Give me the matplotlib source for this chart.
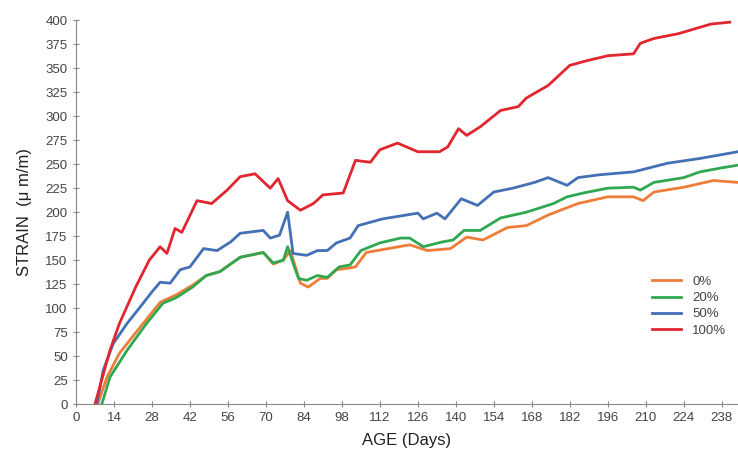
import matplotlib.pyplot as plt

plt.rcParams['font.family'] = ['Liberation Sans', 'DejaVu Sans']

# values (day, strain in micro m/m)
days_0 = [8, 11.4, 16, 23.6, 31, 37, 43, 48, 53, 60.5, 69, 72.7, 76.4, 79, 82.7, 85.6, 90, 92.6, 96,
          101, 103, 107, 115, 123, 129.5, 138, 144, 150, 159, 166, 174, 185, 196, 205.5, 209, 213,
          224, 235, 244]
strain_0 = [0, 28, 53, 80, 106, 114, 124, 134, 138, 153, 158, 146, 150, 160, 126, 122, 131, 131, 140,
            142, 143, 158, 162, 166, 160, 162, 174, 171, 184, 186, 197, 209, 216, 216, 212, 221,
            226, 233, 231]

days_20 = [9.5, 12.5, 18.8, 26, 32, 37, 43, 48, 53, 60.5, 69, 72.7, 76.4, 78, 80, 82, 85, 89, 92.6,
           97, 101, 105, 112, 119.6, 123, 128, 135, 139, 143, 149, 156.5, 166, 176, 181, 187, 196,
           205.5, 208, 213, 224, 230, 237.6, 244]
strain_20 = [0, 28, 56, 84, 105, 111, 122, 134, 138, 153, 158, 147, 150, 164, 147, 131, 129, 134, 132,
             143, 145, 160, 168, 173, 173, 164, 169, 171, 181, 181, 194, 200, 209, 216, 220, 225,
             226, 223, 231, 236, 242, 246, 249]

days_50 = [7.7, 10, 13.7, 18.8, 23.6, 28, 31, 34.7, 38.4, 42, 47, 52, 57, 60.5, 69, 71.6, 75, 78, 80,
           85, 89, 92.6, 96, 101, 104, 113, 126, 128, 133, 136, 142, 148, 154, 161, 169, 174, 181,
           185, 193, 205.5, 218, 230, 244]
strain_50 = [0, 35, 63, 84, 101, 117, 127, 126, 140, 143, 162, 160, 169, 178, 181, 173, 176, 200, 157,
             155, 160, 160, 168, 173, 186, 193, 199, 193, 199, 193, 214, 207, 221, 225, 231, 236, 228,
             236, 239, 242, 251, 256, 263]

days_100 = [7, 12.5, 16, 22, 27, 31, 33.5, 36.5, 39, 44.6, 50, 55.7, 60.5, 66, 71.6, 74.5, 78, 82.7,
            87.5, 91, 98.5, 103, 108.5, 112, 118.5, 126, 134, 137, 141, 144, 149, 156.5, 163, 166,
            174, 182, 188.5, 196, 205.5, 208, 213, 222, 234, 241]
strain_100 = [0, 56, 84, 122, 150, 164, 157, 183, 179, 212, 209, 223, 237, 240, 225, 235, 212, 202,
              209, 218, 220, 254, 252, 265, 272, 263, 263, 268, 287, 280, 289, 306, 310, 319,
              332, 353, 358, 363, 365, 376, 381, 386, 396, 398]

labels = ['0%', '20%', '50%', '100%']
colors = ['#ef7d3a', '#2fa84f', '#4470b6', '#e1262f']

fig = plt.figure(figsize=(7.38, 4.5), dpi=100)
ax = fig.add_axes([0.103, 0.102, 0.897, 0.853])

series = [(days_0, strain_0), (days_20, strain_20), (days_50, strain_50), (days_100, strain_100)]
for (d, s), lab, c in zip(series, labels, colors):
    ax.plot(d, s, color=c, linewidth=2, label=lab)

ax.set_xlim(0, 244)
ax.set_ylim(0, 400)
ax.set_xticks(range(0, 239, 14))
ax.set_yticks(range(0, 401, 25))

for side in ['top', 'right']:
    ax.spines[side].set_visible(False)
for side in ['left', 'bottom']:
    ax.spines[side].set_color('#888888')
ax.tick_params(direction='inout', length=5, color='#888888', labelsize=9.5, labelcolor='#444444')

ax.set_xlabel('AGE (Days)', fontsize=12, color='#222222', labelpad=6)
ax.set_ylabel('STRAIN  (\u03bc m/m)', fontsize=12, color='#222222', labelpad=10)

ax.legend(loc='center right', bbox_to_anchor=(1.0, 0.255), frameon=False, fontsize=9.5,
          handlelength=2.2, labelspacing=0.3, labelcolor='#444444')

fig.savefig('out.png', dpi=100)
